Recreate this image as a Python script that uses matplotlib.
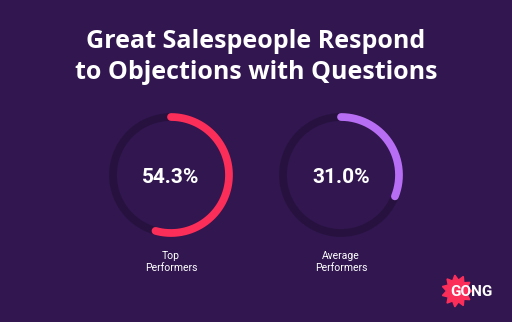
import numpy as np
import matplotlib
matplotlib.use("Agg")
import matplotlib.pyplot as plt
from matplotlib.patches import Polygon

title_lines = ["Great Salespeople Respond", "to Objections with Questions"]
groups = ["Top\nPerformers", "Average\nPerformers"]
values = [54.3, 31.0]
colors = ["#fb2e5a", "#b86ef4"]

BG = "#311650"
TRACK = "#27123f"

fig = plt.figure(figsize=(5.12, 3.22), dpi=100)
fig.patch.set_facecolor(BG)
ax = fig.add_axes([0, 0, 1, 1])
ax.set_facecolor(BG)
ax.set_xlim(0, 512)
ax.set_ylim(322, 0)
ax.axis("off")

ax.text(256, 41, title_lines[0], ha="center", va="center", color="white",
        fontsize=18, fontweight="bold", family="Open Sans")
ax.text(256, 72, title_lines[1], ha="center", va="center", color="white",
        fontsize=18, fontweight="bold", family="Open Sans")

centers = [(171, 175), (341, 175)]
r = 58
for (cx, cy), v, c, g in zip(centers, values, colors, groups):
    t = np.linspace(0, 2 * np.pi, 400)
    ax.plot(cx + r * np.sin(t), cy - r * np.cos(t), color=TRACK, lw=5.6)
    t = np.linspace(0, 2 * np.pi * v / 100, 300)
    ax.plot(cx + r * np.sin(t), cy - r * np.cos(t), color=c, lw=5.6,
            solid_capstyle="round")
    ax.text(cx, cy + 2, f"{v:.1f}%", ha="center", va="center", color="white",
            fontsize=15, fontweight="bold", family="Roboto")
    ax.text(cx, 262, g, ha="center", va="center", color="white",
            fontsize=7.5, family="Roboto", linespacing=1.25)

# GONG logo
n = 11
ang = np.linspace(0, 2 * np.pi, 2 * n, endpoint=False)
rad = np.where(np.arange(2 * n) % 2 == 0, 16, 11)
pts = np.column_stack([457 + 0.95 * rad * np.cos(ang), 291 + rad * np.sin(ang)])
ax.add_patch(Polygon(pts, closed=True, color="#fb2e5a"))
ax.text(471, 292, "GONG", ha="center", va="center", color="white",
        fontsize=11, fontweight="bold", family="Roboto")

fig.savefig("out.png", dpi=100, facecolor=BG)
